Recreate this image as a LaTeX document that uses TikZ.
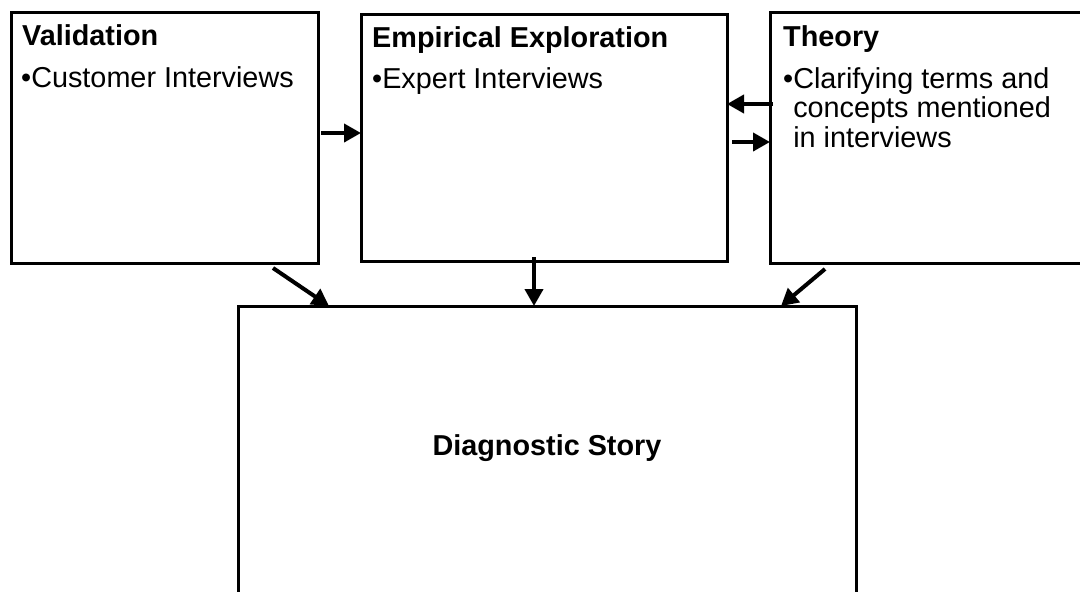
\documentclass[tikz,border=0pt]{standalone}
\usepackage{fontspec}
\setmainfont{Liberation Sans}
\usetikzlibrary{arrows.meta}

\tikzset{
  box/.style={draw=black, line width=3pt, rectangle, inner sep=0pt, outer sep=0pt, anchor=north west},
  title/.style={anchor=base west, inner sep=0pt, font=\fontsize{28.8}{29.5}\selectfont\bfseries},
  body/.style={anchor=base west, inner sep=0pt, align=left, font=\fontsize{28.8}{29.5}\selectfont},
  arr/.style={line width=4pt, -{Triangle[length=17pt,width=18pt]}}
}

\begin{document}
\begin{tikzpicture}[x=1pt, y=-1pt]
  \useasboundingbox (0,0) rectangle (1080,592);
  \clip (0,0) rectangle (1080,592);

  % the three source boxes along the top, and the result box below
  \node[box, minimum width=307pt, minimum height=251pt] (val) at (11,12) {};
  \node[box, minimum width=366pt, minimum height=247pt] (emp) at (361,14) {};
  \node[box, minimum width=400pt, minimum height=251pt] (the) at (770,12) {};
  \node[box, minimum width=618pt, minimum height=400pt] (diag) at (238,306) {};

  % box contents
  \node[title] (valt) at (22,45) {Validation};
  \node[body]  (valb) at (21,87) {•Customer Interviews};

  \node[title] (empt) at (372,47) {Empirical Exploration};
  \node[body]  (empb) at (372,88) {•Expert Interviews};

  \node[title] (thet) at (783,46) {Theory};
  % a multi-line node sits on the baseline of its last line
  \node[body]  (theb) at (783,147) {•Clarifying terms and\\\hphantom{•}concepts mentioned\\\hphantom{•}in interviews};

  \node[title, anchor=base] (diagt) at (547,455) {Diagnostic Story};

  % connectors between the boxes
  \draw[arr] ([xshift=3pt,yshift=4.5pt]val.east) -- ([yshift=4.5pt]emp.west);
  \draw[arr] ([xshift=3pt,yshift=33.5pt]the.west) -- ([yshift=33.5pt]emp.east);
  \draw[arr] ([xshift=5pt,yshift=-4.5pt]emp.east) -- ([yshift=-4.5pt]the.west);

  \draw[arr] ([xshift=-45pt,yshift=-5pt]val.south east) -- ([xshift=91pt]diag.north west);
  \draw[arr] ([xshift=-10pt,yshift=4pt]emp.south) -- ([xshift=-13pt]diag.north);
  \draw[arr] ([xshift=55pt,yshift=-6pt]the.south west) -- ([xshift=-75pt]diag.north east);
\end{tikzpicture}
\end{document}
